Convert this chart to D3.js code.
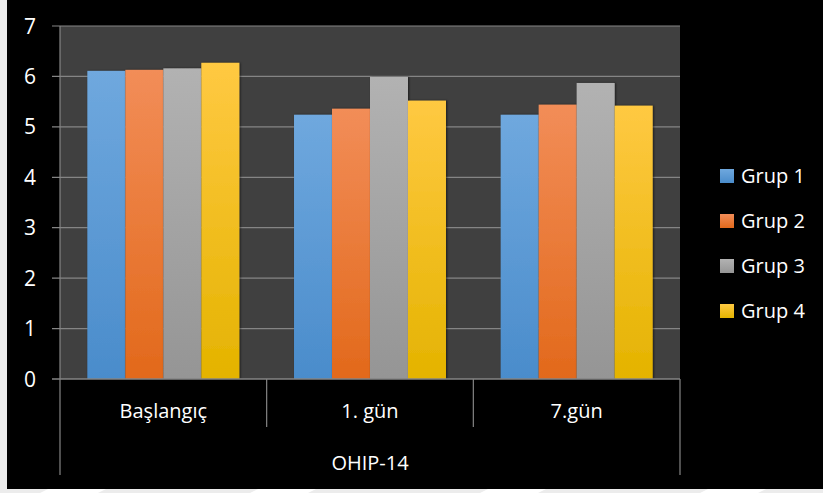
<!DOCTYPE html>
<html>
<head>
<meta charset="utf-8">
<script src="https://cdn.jsdelivr.net/npm/d3@7"></script>
<style>
    body { margin: 0; background: #ececec; }
    svg { display: block; }
    text { font-family: "Open Sans", Lato, sans-serif; fill: #ffffff; }
</style>
</head>
<body>
<svg id="chart" width="823" height="493"></svg>
<script>
const categories = ["Başlangıç", "1. gün", "7.gün"]
const groups = ["Grup 1", "Grup 2", "Grup 3", "Grup 4"]
const grup1 = [6.11, 5.24, 5.24]
const grup2 = [6.13, 5.36, 5.44]
const grup3 = [6.16, 5.99, 5.87]
const grup4 = [6.27, 5.52, 5.42]
const yTicks = [0, 1, 2, 3, 4, 5, 6, 7]
const outerLabel = "OHIP-14"

const seriesValues = [grup1, grup2, grup3, grup4]
const colors = [
    {top: "#6fa8de", bottom: "#4a8ccb"},
    {top: "#f28d58", bottom: "#e2691b"},
    {top: "#b2b2b2", bottom: "#959595"},
    {top: "#ffc942", bottom: "#e4b300"}
]

const svg = d3.select("#chart")
const W = 823, H = 493
const plot = {left: 60, right: 680, top: 26, bottom: 379}

// page + chart background
svg.append("rect").attr("x", 0).attr("y", 0).attr("width", W).attr("height", H).attr("fill", "#ececec")
const wm = svg.append("g")
;[40, 250, 480, 700].forEach(x => {
    wm.append("path")
        .attr("d", `M${x},493 L${x + 12},487 L${x + 70},487 L${x + 58},493 Z`)
        .attr("fill", "#ffffff")
})
svg.append("rect").attr("x", 7).attr("y", 0).attr("width", W - 7).attr("height", 489).attr("fill", "#000000")

const defs = svg.append("defs")
colors.forEach((c, i) => {
    const g = defs.append("linearGradient")
        .attr("id", "grad" + i)
        .attr("x1", 0).attr("y1", 0).attr("x2", 0).attr("y2", 1)
    g.append("stop").attr("offset", "0%").attr("stop-color", c.top)
    g.append("stop").attr("offset", "100%").attr("stop-color", c.bottom)
})
const shadow = defs.append("filter").attr("id", "shadow")
    .attr("x", "-20%").attr("y", "-20%").attr("width", "140%").attr("height", "140%")
shadow.append("feDropShadow").attr("dx", 1).attr("dy", 0).attr("stdDeviation", 1.2)
    .attr("flood-color", "#000").attr("flood-opacity", 0.6)

const y = d3.scaleLinear().domain([0, 7]).range([plot.bottom, plot.top])
const x0 = d3.scaleBand().domain(categories).range([plot.left, plot.right]).paddingInner(0).paddingOuter(0)
const x1 = d3.scaleBand().domain(groups).range([0, x0.bandwidth()]).paddingInner(0).paddingOuter(0.72)

svg.append("rect")
    .attr("x", plot.left).attr("y", plot.top)
    .attr("width", plot.right - plot.left).attr("height", plot.bottom - plot.top)
    .attr("fill", "#404040")

// grid lines
svg.append("g").selectAll("line")
    .data(yTicks.filter(d => d > 0))
    .join("line")
    .attr("x1", plot.left - 8).attr("x2", plot.right)
    .attr("y1", d => y(d)).attr("y2", d => y(d))
    .attr("stroke", "#858585").attr("stroke-width", 1.2)

// y tick labels
svg.append("g").selectAll("text")
    .data(yTicks)
    .join("text")
    .attr("x", 30).attr("y", d => y(d))
    .attr("dy", "0.36em")
    .attr("text-anchor", "middle")
    .attr("font-size", 21)
    .text(d => d)

// bars
const catG = svg.append("g").selectAll("g")
    .data(categories)
    .join("g")
    .attr("transform", d => `translate(${x0(d)},0)`)

catG.selectAll("rect")
    .data((d, ci) => groups.map((g, gi) => ({g, gi, v: seriesValues[gi][ci]})))
    .join("rect")
    .attr("x", d => x1(d.g))
    .attr("y", d => y(d.v))
    .attr("width", x1.bandwidth())
    .attr("height", d => y(0) - y(d.v))
    .attr("fill", d => `url(#grad${d.gi})`)
    .attr("filter", "url(#shadow)")

// axes lines
svg.append("line")
    .attr("x1", plot.left).attr("x2", plot.left)
    .attr("y1", plot.top).attr("y2", 475)
    .attr("stroke", "#858585").attr("stroke-width", 1.2)
svg.append("line")
    .attr("x1", plot.left - 8).attr("x2", plot.right)
    .attr("y1", plot.bottom).attr("y2", plot.bottom)
    .attr("stroke", "#858585").attr("stroke-width", 1.5)
svg.append("line")
    .attr("x1", plot.right).attr("x2", plot.right)
    .attr("y1", plot.bottom).attr("y2", 475)
    .attr("stroke", "#858585").attr("stroke-width", 1.2)

// inner category dividers
svg.append("g").selectAll("line")
    .data(categories.slice(1))
    .join("line")
    .attr("x1", d => x0(d)).attr("x2", d => x0(d))
    .attr("y1", plot.bottom).attr("y2", 427)
    .attr("stroke", "#858585").attr("stroke-width", 1.2)

svg.append("g").selectAll("text")
    .data(categories)
    .join("text")
    .attr("x", d => x0(d) + x0.bandwidth() / 2)
    .attr("y", 411)
    .attr("dy", "0.36em")
    .attr("text-anchor", "middle")
    .attr("font-size", 20)
    .text(d => d)

svg.append("text")
    .attr("x", (plot.left + plot.right) / 2)
    .attr("y", 463)
    .attr("dy", "0.36em")
    .attr("text-anchor", "middle")
    .attr("font-size", 20)
    .text(outerLabel)

// legend
const leg = svg.append("g").selectAll("g")
    .data(groups)
    .join("g")
    .attr("transform", (d, i) => `translate(720,${176 + i * 45})`)
leg.append("rect")
    .attr("x", 0).attr("y", -7).attr("width", 14).attr("height", 14)
    .attr("fill", (d, i) => `url(#grad${i})`)
leg.append("text")
    .attr("x", 21).attr("y", 0).attr("dy", "0.36em")
    .attr("font-size", 20)
    .text(d => d)
</script>
</body>
</html>
